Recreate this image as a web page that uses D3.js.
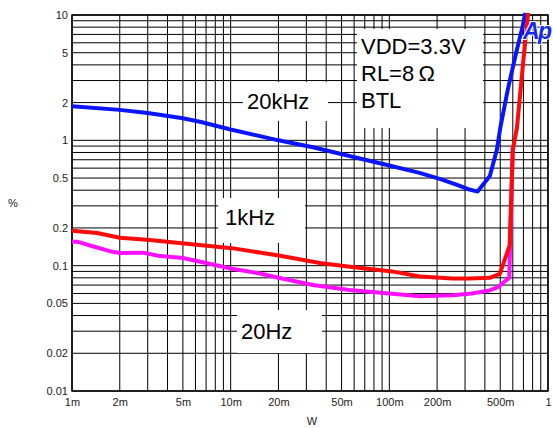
<!DOCTYPE html>
<html>
<head>
<meta charset="utf-8">
<script src="https://cdn.jsdelivr.net/npm/d3@7"></script>
<style>
  html, body { margin: 0; padding: 0; background: #fff; }
  svg { display: block; font-family: "Liberation Sans", Arial, sans-serif; }
</style>
</head>
<body>
<svg id="chart" width="553" height="428"></svg>
<script>
// THD+N (%) versus output power (W), three test frequencies
const xTickValues = [0.001, 0.002, 0.005, 0.01, 0.02, 0.05, 0.1, 0.2, 0.5, 1];
const xTickLabels = ["1m", "2m", "5m", "10m", "20m", "50m", "100m", "200m", "500m", "1"];
const yTickValues = [0.01, 0.02, 0.05, 0.1, 0.2, 0.5, 1, 2, 5, 10];
const yTickLabels = ["0.01", "0.02", "0.05", "0.1", "0.2", "0.5", "1", "2", "5", "10"];

// [power W, THD+N %]
const series20k = [
  [0.001, 1.87], [0.002, 1.75], [0.003, 1.65], [0.005, 1.5], [0.0065, 1.4],
  [0.01, 1.22], [0.02, 1.0], [0.033, 0.88], [0.056, 0.75], [0.1, 0.63],
  [0.155, 0.55], [0.21, 0.49], [0.27, 0.44], [0.32, 0.405], [0.36, 0.39],
  [0.43, 0.52], [0.476, 0.84], [0.5, 1.25], [0.56, 2.6], [0.63, 5.0],
  [0.69, 8.0], [0.72, 10.4]
];
const series1k = [
  [0.001, 0.19], [0.00144, 0.182], [0.002, 0.167], [0.0031, 0.16], [0.0051, 0.15],
  [0.0102, 0.138], [0.0205, 0.12], [0.0365, 0.105], [0.0565, 0.098], [0.104, 0.09],
  [0.156, 0.082], [0.25, 0.079], [0.322, 0.079], [0.43, 0.08], [0.497, 0.086],
  [0.573, 0.145], [0.6, 0.84], [0.637, 1.25], [0.70, 4.4], [0.75, 10.4]
];
const series20 = [
  [0.001, 0.155], [0.00109, 0.155], [0.0014, 0.141], [0.0018, 0.129], [0.002, 0.126],
  [0.0028, 0.127], [0.0035, 0.12], [0.005, 0.115], [0.007, 0.105], [0.01, 0.095],
  [0.015, 0.087], [0.02, 0.08], [0.033, 0.07], [0.056, 0.064], [0.1, 0.06],
  [0.156, 0.057], [0.25, 0.058], [0.33, 0.06], [0.42, 0.063], [0.48, 0.067],
  [0.57, 0.08], [0.6, 0.9]
];

const svg = d3.select("#chart");
const plotLeft = 72, plotRight = 548, plotTop = 15, plotBottom = 391;

const x = d3.scaleLog().domain([0.001, 1]).range([plotLeft, plotRight]);
const y = d3.scaleLog().domain([0.01, 10]).range([plotBottom, plotTop]);

// grid at every 1..9 step of each decade
const xGrid = [];
[0.001, 0.01, 0.1].forEach(d => { for (let k = 1; k <= 9; k++) xGrid.push(k * d); });
xGrid.push(1);
const yGrid = [];
[0.01, 0.1, 1].forEach(d => { for (let k = 1; k <= 9; k++) yGrid.push(k * d); });
yGrid.push(10);

const grid = svg.append("g").attr("stroke", "#000").attr("stroke-width", 1);
grid.selectAll("line.v").data(xGrid).join("line")
  .attr("class", "v")
  .attr("x1", d => x(d)).attr("x2", d => x(d))
  .attr("y1", plotTop).attr("y2", plotBottom);
grid.selectAll("line.h").data(yGrid).join("line")
  .attr("class", "h")
  .attr("x1", plotLeft).attr("x2", plotRight)
  .attr("y1", d => y(d)).attr("y2", d => y(d));

// frame
svg.append("rect")
  .attr("x", plotLeft).attr("y", plotTop)
  .attr("width", plotRight - plotLeft).attr("height", plotBottom - plotTop)
  .attr("fill", "none").attr("stroke", "#000").attr("stroke-width", 1.5);

// white label boxes sitting over the grid
const boxes = [
  { x0: 357, y0: 29, x1: 483, y1: 128 },
  { x0: 243, y0: 82, x1: 328, y1: 121 },
  { x0: 218, y0: 198, x1: 305, y1: 243 },
  { x0: 237, y0: 310, x1: 322, y1: 353 }
];
svg.selectAll("rect.box").data(boxes).join("rect")
  .attr("class", "box")
  .attr("x", d => d.x0).attr("y", d => d.y0)
  .attr("width", d => d.x1 - d.x0).attr("height", d => d.y1 - d.y0)
  .attr("fill", "#fff");

// axes
const xAxis = d3.axisBottom(x).tickValues(xTickValues)
  .tickFormat((d, i) => xTickLabels[i]).tickSize(0).tickPadding(7);
const gx = svg.append("g").attr("transform", `translate(0,${plotBottom})`).call(xAxis);
gx.select(".domain").remove();
gx.selectAll("text").attr("font-size", 11).attr("fill", "#222")
  .attr("font-family", "'Liberation Sans', Arial, sans-serif");

const yAxis = d3.axisLeft(y).tickValues(yTickValues)
  .tickFormat((d, i) => yTickLabels[i]).tickSize(0).tickPadding(4);
const gy = svg.append("g").attr("transform", `translate(${plotLeft},0)`).call(yAxis);
gy.select(".domain").remove();
gy.selectAll("text").attr("font-size", 11).attr("fill", "#222")
  .attr("font-family", "'Liberation Sans', Arial, sans-serif");

svg.append("text").attr("x", 13).attr("y", 207).attr("text-anchor", "middle")
  .attr("font-size", 11).attr("fill", "#222").text("%");
svg.append("text").attr("x", 312).attr("y", 425).attr("text-anchor", "middle")
  .attr("font-size", 11).attr("fill", "#222").text("W");

// curves
const line = d3.line().x(d => x(d[0])).y(d => y(d[1]));
const curves = [
  { data: series20k, color: "#0a14ff" },
  { data: series20, color: "#ff10ff" },
  { data: series1k, color: "#ff0a0a" }
];
svg.selectAll("path.curve").data(curves).join("path")
  .attr("class", "curve")
  .attr("d", d => line(d.data))
  .attr("fill", "none")
  .attr("stroke", d => d.color)
  .attr("stroke-width", 4)
  .attr("stroke-linejoin", "round");

// labels
const labels = [
  { t: "VDD=3.3V", x: 361, y: 54 },
  { t: "RL=8\u2009\u03A9", x: 361, y: 81 },
  { t: "BTL", x: 361, y: 108 },
  { t: "20kHz", x: 247, y: 109 },
  { t: "1kHz", x: 225, y: 225 },
  { t: "20Hz", x: 241, y: 339 }
];
svg.selectAll("text.lbl").data(labels).join("text")
  .attr("class", "lbl")
  .attr("x", d => d.x).attr("y", d => d.y)
  .attr("font-size", 22).attr("fill", "#000")
  .text(d => d.t);

// analyzer mark
svg.append("text").attr("x", 523).attr("y", 39)
  .attr("font-size", 23).attr("font-weight", "bold").attr("font-style", "italic")
  .attr("fill", "#1428f0").attr("stroke", "#fff").attr("stroke-width", 2)
  .attr("paint-order", "stroke")
  .attr("letter-spacing", -1.5)
  .text("Ap");
</script>
</body>
</html>
